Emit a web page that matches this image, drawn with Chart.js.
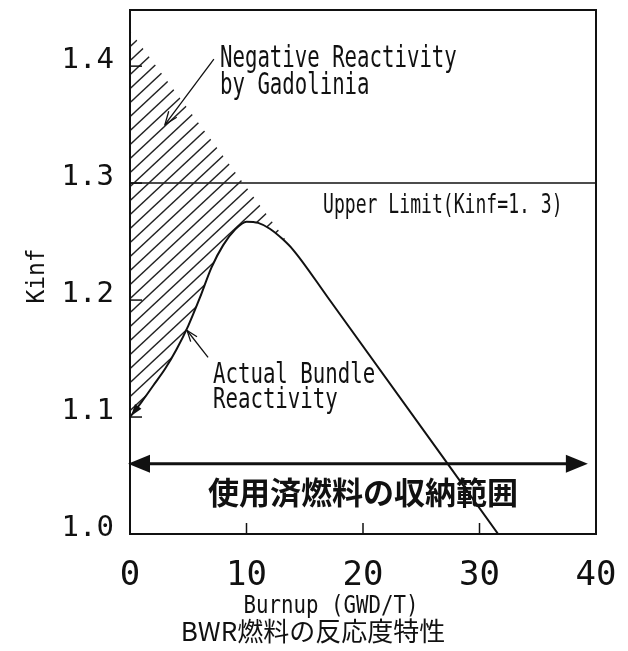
<!DOCTYPE html>
<html>
<head>
<meta charset="utf-8">
<script src="https://cdn.jsdelivr.net/npm/chart.js@4/dist/chart.umd.min.js"></script>
<style>
  body { margin: 0; background: #fff; }
</style>
</head>
<body>
<canvas id="myChart" width="628" height="651"></canvas>
<script>
// burnup (GWD/T) and Kinf
var burnupActual = [0, 1, 2, 3, 4, 5, 6, 7, 8, 9, 10, 11, 12, 13, 14, 17, 31.6];
var kinfActual = [1.100, 1.113, 1.127, 1.141, 1.158, 1.178, 1.202, 1.228, 1.247, 1.260, 1.267, 1.266, 1.261, 1.253, 1.243, 1.202, 1.0];

// reactivity without gadolinia (upper edge of hatched area)
var burnupNoGd = [0, 14];
var kinfNoGd = [1.43, 1.243];

var upperLimit = 1.3;
var limitBurnup = [0, 40];

var xTickValues = [0, 10, 20, 30, 40];
var yTickValues = [1.0, 1.1, 1.2, 1.3, 1.4];

// storage range arrow
var rangeBurnup = [0, 39.3];
var rangeKinf = 1.06;

function pts(xs, ys) {
  return xs.map(function (x, i) { return { x: x, y: ys[i] }; });
}

// hatch pattern "////"
function makeHatch() {
  var W = 15, H = 14;
  var c = document.createElement('canvas');
  c.width = W; c.height = H;
  var g = c.getContext('2d');
  g.strokeStyle = '#222';
  g.lineWidth = 1.4;
  for (var k = -1; k <= 1; k++) {
    g.beginPath();
    g.moveTo(k * W - W, 2 * H);
    g.lineTo(k * W + 2 * W, -H);
    g.stroke();
  }
  return g.createPattern(c, 'repeat');
}

function plotterText(ctx, text, x, y, size, squeeze, align) {
  ctx.save();
  ctx.font = size + 'px "DejaVu Sans Mono"';
  ctx.textBaseline = 'alphabetic';
  ctx.textAlign = 'left';
  var w = ctx.measureText(text).width * squeeze;
  var x0 = align === 'center' ? x - w / 2 : (align === 'right' ? x - w : x);
  ctx.translate(x0, y);
  ctx.scale(squeeze, 1);
  ctx.fillText(text, 0, 0);
  ctx.restore();
}

function arrowHead(ctx, x1, y1, x2, y2, len, half, filled) {
  var a = Math.atan2(y2 - y1, x2 - x1);
  var bx = x2 - len * Math.cos(a), by = y2 - len * Math.sin(a);
  var px = -Math.sin(a) * half, py = Math.cos(a) * half;
  ctx.beginPath();
  ctx.moveTo(bx + px, by + py);
  ctx.lineTo(x2, y2);
  ctx.lineTo(bx - px, by - py);
  if (filled) { ctx.closePath(); ctx.fill(); } else ctx.stroke();
}

var framePlugin = {
  id: 'frame',
  afterDraw: function (chart) {
    var ctx = chart.ctx, a = chart.chartArea;
    var xs = chart.scales.x, ys = chart.scales.y;
    ctx.save();
    ctx.strokeStyle = '#111';
    ctx.fillStyle = '#111';

    // box
    ctx.lineWidth = 2;
    ctx.strokeRect(a.left, a.top, a.right - a.left, a.bottom - a.top);

    // inward ticks
    ctx.lineWidth = 1.5;
    yTickValues.forEach(function (v) {
      var py = ys.getPixelForValue(v);
      ctx.beginPath(); ctx.moveTo(a.left, py); ctx.lineTo(a.left + 12, py); ctx.stroke();
    });
    xTickValues.slice(1, -1).forEach(function (v) {
      var px = xs.getPixelForValue(v);
      ctx.beginPath(); ctx.moveTo(px, a.bottom); ctx.lineTo(px, a.bottom - 11); ctx.stroke();
    });

    // storage range double arrow
    var rx1 = xs.getPixelForValue(rangeBurnup[0]) - 2;
    var rx2 = xs.getPixelForValue(rangeBurnup[1]);
    var ry = ys.getPixelForValue(rangeKinf);
    ctx.lineWidth = 3;
    ctx.beginPath(); ctx.moveTo(rx1 + 15, ry); ctx.lineTo(rx2 - 15, ry); ctx.stroke();
    arrowHead(ctx, rx2 - 30, ry, rx2, ry, 22, 9, true);
    arrowHead(ctx, rx1 + 30, ry, rx1, ry, 22, 9, true);

    // arrow tip at start of the actual curve
    var s0 = [xs.getPixelForValue(burnupActual[0]), ys.getPixelForValue(kinfActual[0])];
    var s1 = [xs.getPixelForValue(burnupActual[1]), ys.getPixelForValue(kinfActual[1])];
    arrowHead(ctx, s1[0], s1[1], s0[0] + 1, s0[1] - 1, 12, 4, true);

    // annotation arrows
    ctx.lineWidth = 1.3;
    var n1 = [xs.getPixelForValue(7.2), ys.getPixelForValue(1.406)];
    var n2 = [xs.getPixelForValue(3.0), ys.getPixelForValue(1.35)];
    ctx.beginPath(); ctx.moveTo(n1[0], n1[1]); ctx.lineTo(n2[0], n2[1]); ctx.stroke();
    arrowHead(ctx, n1[0], n1[1], n2[0], n2[1], 13, 5, false);

    var b1 = [xs.getPixelForValue(6.7), ys.getPixelForValue(1.151)];
    var b2 = [xs.getPixelForValue(4.9), ys.getPixelForValue(1.174)];
    ctx.beginPath(); ctx.moveTo(b1[0], b1[1]); ctx.lineTo(b2[0], b2[1]); ctx.stroke();
    arrowHead(ctx, b1[0], b1[1], b2[0], b2[1], 11, 4, false);

    // plotter style labels
    plotterText(ctx, 'Negative Reactivity', 220, 67, 30, 0.69, 'left');
    plotterText(ctx, 'by Gadolinia', 220, 94, 30, 0.69, 'left');
    plotterText(ctx, 'Upper Limit(Kinf=1. 3)', 323, 213, 27, 0.67, 'left');
    plotterText(ctx, 'Actual Bundle', 213, 383, 28, 0.74, 'left');
    plotterText(ctx, 'Reactivity', 213, 408, 28, 0.74, 'left');
    plotterText(ctx, 'Burnup (GWD/T)', 331, 613, 25, 0.83, 'center');

    ctx.save();
    ctx.translate(44, 276);
    ctx.rotate(-Math.PI / 2);
    plotterText(ctx, 'Kinf', 0, 0, 24, 0.95, 'center');
    ctx.restore();

    // Japanese labels
    ctx.textAlign = 'center';
    ctx.textBaseline = 'middle';
    ctx.font = 'bold 31px "Noto Sans CJK JP"';
    ctx.fillText('使用済燃料の収納範囲', (a.left + a.right) / 2, 492);
    ctx.font = '26px "Noto Sans CJK JP"';
    ctx.fillText('BWR燃料の反応度特性', 313, 631);
    ctx.restore();
  }
};

var ctx = document.getElementById('myChart').getContext('2d');
var myChart = new Chart(ctx, {
  type: 'scatter',
  data: {
    datasets: [{
      label: 'Actual Bundle Reactivity',
      data: pts(burnupActual, kinfActual),
      showLine: true,
      borderColor: '#111',
      borderWidth: 2,
      pointRadius: 0,
      cubicInterpolationMode: 'monotone',
      fill: false
    }, {
      label: 'Negative Reactivity by Gadolinia',
      data: pts(burnupNoGd, kinfNoGd),
      showLine: true,
      borderColor: 'rgba(0,0,0,0)',
      borderWidth: 0,
      pointRadius: 0,
      backgroundColor: makeHatch(),
      fill: '-1'
    }, {
      label: 'Upper Limit',
      data: pts(limitBurnup, [upperLimit, upperLimit]),
      showLine: true,
      borderColor: '#111',
      borderWidth: 1.5,
      pointRadius: 0,
      fill: false
    }]
  },
  options: {
    responsive: false,
    animation: false,
    events: [],
    layout: { padding: { left: 0, right: 32, top: 10, bottom: 0 } },
    plugins: {
      legend: { display: false },
      tooltip: { enabled: false }
    },
    scales: {
      x: {
        type: 'linear',
        min: 0,
        max: 40,
        grid: { display: false },
        border: { display: false },
        ticks: {
          stepSize: 10,
          color: '#111',
          padding: 14,
          font: { family: 'DejaVu Sans Mono', size: 34 }
        },
        afterFit: function (s) { s.height = 117; s.paddingLeft = 0; s.paddingRight = 0; }
      },
      y: {
        type: 'linear',
        min: 1.0,
        max: 1.448,
        grid: { display: false },
        border: { display: false },
        ticks: {
          stepSize: 0.1,
          includeBounds: false,
          color: '#111',
          padding: 8,
          labelOffset: -6,
          font: { family: 'DejaVu Sans Mono', size: 29 },
          callback: function (v) { return v.toFixed(1); }
        },
        afterFit: function (s) { s.width = 130; s.paddingTop = 0; s.paddingBottom = 0; }
      }
    }
  },
  plugins: [framePlugin]
});
</script>
</body>
</html>
